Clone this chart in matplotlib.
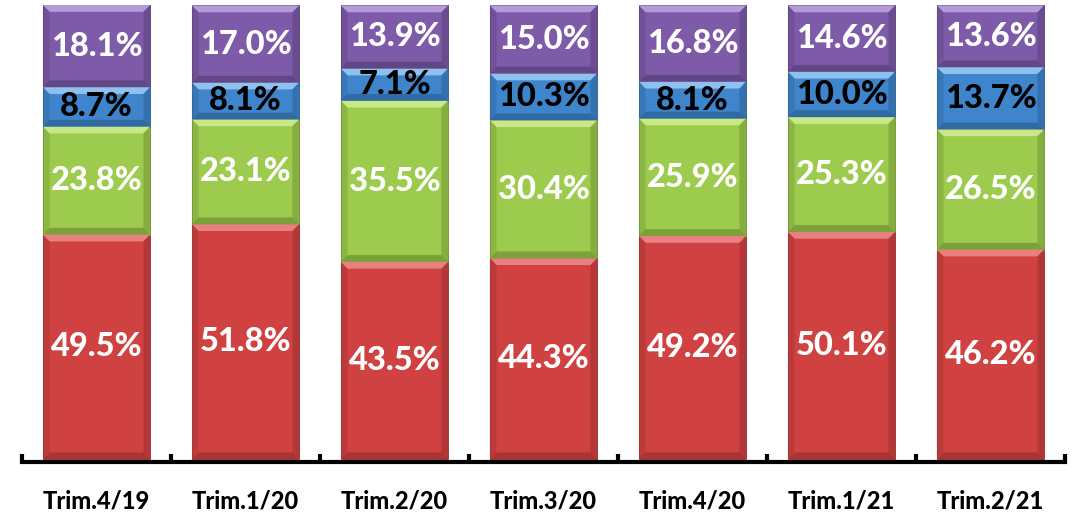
import matplotlib
matplotlib.use("Agg")

import matplotlib.pyplot as plt
from matplotlib.patches import Polygon
import numpy as np

categories = ["Trim.4/19", "Trim.1/20", "Trim.2/20", "Trim.3/20", "Trim.4/20", "Trim.1/21", "Trim.2/21"]
rouge = [49.5, 51.8, 43.5, 44.3, 49.2, 50.1, 46.2]
vert = [23.8, 23.1, 35.5, 30.4, 25.9, 25.3, 26.5]
bleu = [8.7, 8.1, 7.1, 10.3, 8.1, 10.0, 13.7]
violet = [18.1, 17.0, 13.9, 15.0, 16.8, 14.6, 13.6]

series = [rouge, vert, bleu, violet]
couleurs = ["#D04141", "#9DCB4E", "#3F85CB", "#7E5BA8"]
clairs = ["#E88080", "#C8E88A", "#8FC0EE", "#B69AD8"]
sombres = ["#9A2E2E", "#6E9032", "#2C5E92", "#573F7A"]
couleurs_texte = ["white", "white", "black", "white"]

plt.rcParams["font.family"] = ["Lato", "DejaVu Sans"]

fig = plt.figure(figsize=(10.74, 5.12), dpi=100)
ax = fig.add_axes([22 / 1074, 50 / 512, 1043 / 1074, 457 / 512])

x = np.arange(len(categories))
largeur = 0.72
bas = np.zeros(len(categories))
total_max = max(sum(v) for v in zip(*series))

# taille du biseau en unités de données (~6 px)
bx = 0.045
by = 1.5

for valeurs, c, cl, so, ct in zip(series, couleurs, clairs, sombres, couleurs_texte):
    valeurs = np.array(valeurs)
    ax.bar(x, valeurs, largeur, bottom=bas, color=c, edgecolor=so, linewidth=0.6, zorder=2)
    for xi, b, h in zip(x, bas, valeurs):
        x0, x1 = xi - largeur / 2, xi + largeur / 2
        y0, y1 = b, b + h
        # haut clair
        ax.add_patch(Polygon([[x0, y1], [x1, y1], [x1 - bx, y1 - by], [x0 + bx, y1 - by]],
                             closed=True, color=cl, lw=0, zorder=3))
        # bas sombre
        ax.add_patch(Polygon([[x0, y0], [x1, y0], [x1 - bx, y0 + by], [x0 + bx, y0 + by]],
                             closed=True, color=so, lw=0, alpha=0.7, zorder=3))
        # côtés
        ax.add_patch(Polygon([[x0, y0], [x0 + bx, y0 + by], [x0 + bx, y1 - by], [x0, y1]],
                             closed=True, color=so, lw=0, alpha=0.35, zorder=3))
        ax.add_patch(Polygon([[x1, y0], [x1 - bx, y0 + by], [x1 - bx, y1 - by], [x1, y1]],
                             closed=True, color=so, lw=0, alpha=0.5, zorder=3))
        ax.text(xi, b + h / 2, f"{h:.1f}%", ha="center", va="center", color=ct,
                fontsize=23.5, fontweight="black", zorder=4)
    bas += valeurs

ax.set_xlim(-0.5, len(categories) - 0.5)
ax.set_ylim(-0.6, total_max)

for s in ["top", "right", "left"]:
    ax.spines[s].set_visible(False)
ax.spines["bottom"].set_linewidth(3)
ax.spines["bottom"].set_position(("data", -0.6))
ax.set_yticks([])

ax.set_xticks(np.arange(-0.5, len(categories), 1.0))
ax.set_xticklabels([])
ax.set_xticks(x, minor=True)
ax.set_xticklabels(categories, minor=True, fontsize=17, fontweight="black")
ax.tick_params(axis="x", which="major", direction="in", length=6, width=3)
ax.tick_params(axis="x", which="minor", length=0, pad=20)

fig.savefig("out.png", dpi=100)
